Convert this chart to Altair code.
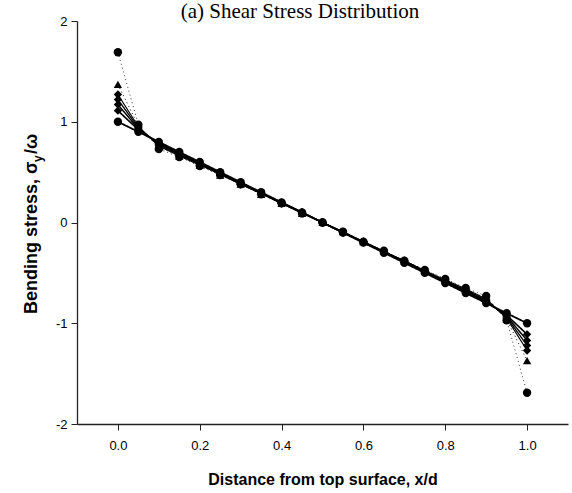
import altair as alt
import pandas as pd

x_vals = [0.0, 0.05, 0.10, 0.15, 0.20, 0.25, 0.30, 0.35, 0.40, 0.45, 0.50,
          0.55, 0.60, 0.65, 0.70, 0.75, 0.80, 0.85, 0.90, 0.95, 1.0]

s_a = [1.00, 0.90, 0.80, 0.70, 0.60, 0.50, 0.40, 0.30, 0.20, 0.10, 0.00,
       -0.10, -0.20, -0.30, -0.40, -0.50, -0.60, -0.70, -0.80, -0.90, -1.00]
s_b = [1.11, 0.92, 0.79, 0.69, 0.59, 0.49, 0.39, 0.29, 0.20, 0.10, 0.00,
       -0.10, -0.20, -0.29, -0.39, -0.49, -0.59, -0.69, -0.79, -0.92, -1.11]
s_c = [1.17, 0.93, 0.78, 0.68, 0.58, 0.49, 0.39, 0.29, 0.19, 0.10, 0.00,
       -0.10, -0.19, -0.29, -0.39, -0.49, -0.58, -0.68, -0.78, -0.93, -1.17]
s_d = [1.22, 0.94, 0.77, 0.67, 0.58, 0.48, 0.38, 0.29, 0.19, 0.10, 0.00,
       -0.10, -0.19, -0.29, -0.38, -0.48, -0.58, -0.67, -0.77, -0.94, -1.22]
s_e = [1.27, 0.95, 0.76, 0.66, 0.57, 0.48, 0.38, 0.29, 0.19, 0.09, 0.00,
       -0.09, -0.19, -0.29, -0.38, -0.48, -0.57, -0.66, -0.76, -0.95, -1.27]
s_f = [1.37, 0.96, 0.75, 0.66, 0.57, 0.47, 0.38, 0.28, 0.19, 0.09, 0.00,
       -0.09, -0.19, -0.28, -0.38, -0.47, -0.57, -0.66, -0.75, -0.96, -1.37]
s_g = [1.69, 0.97, 0.73, 0.65, 0.56, 0.47, 0.38, 0.28, 0.19, 0.09, 0.00,
       -0.09, -0.19, -0.28, -0.38, -0.47, -0.56, -0.65, -0.73, -0.97, -1.69]

series_names = ["A", "B", "C", "D", "E", "F", "G"]
series_vals = [s_a, s_b, s_c, s_d, s_e, s_f, s_g]
shapes = ["circle", "diamond", "diamond", "diamond", "diamond", "triangle-up", "circle"]
dashes = [[1, 0], [1, 0], [1, 0], [1, 0], [1, 0], [1, 3], [1, 3]]
widths = [1.8, 0.8, 0.8, 0.8, 0.8, 1.2, 1.2]

title_text = "(a) Shear Stress Distribution"
x_title = "Distance from top surface, x/d"
y_title_main = "Bending stress, σ"
y_title_sub = "y"
y_title_end = "/ω"
x_ticks = [0.0, 0.2, 0.4, 0.6, 0.8, 1.0]
y_ticks = [-2, -1, 0, 1, 2]

rows = []
for name, vals in zip(series_names, series_vals):
    for xv, yv in zip(x_vals, vals):
        rows.append({"series": name, "x": xv, "y": yv})
df = pd.DataFrame(rows)

W, H = 491, 403

xs = alt.Scale(domain=[-0.1, 1.1], nice=False, zero=False)
ys = alt.Scale(domain=[-2, 2], nice=False, zero=False)

x_axis = alt.Axis(
    values=x_ticks, format=".1f", title=x_title, titleFontSize=16,
    titleFont="Liberation Sans", titleFontWeight="bold", titlePadding=19,
    labelFont="Liberation Sans", labelFontSize=13, labelPadding=9,
    tickSize=6, grid=False, domainColor="#222", tickColor="#222",
    labelColor="black", titleColor="black", domainWidth=1.3)
y_axis = alt.Axis(
    values=y_ticks, title=None, labelExpr="'' + datum.value",
    labelFont="Liberation Sans", labelFontSize=13, labelPadding=4,
    tickSize=6, grid=False, domainColor="#222", tickColor="#222",
    labelColor="black", domainWidth=1.3)

color_scale = alt.Scale(domain=series_names, range=["black"] * len(series_names))

lines = alt.Chart(df).mark_line().encode(
    x=alt.X("x:Q", scale=xs, axis=x_axis),
    y=alt.Y("y:Q", scale=ys, axis=y_axis),
    detail="series:N",
    strokeDash=alt.StrokeDash("series:N", scale=alt.Scale(domain=series_names, range=dashes), legend=None),
    strokeWidth=alt.StrokeWidth("series:N", scale=alt.Scale(domain=series_names, range=widths), legend=None),
    color=alt.Color("series:N", scale=color_scale, legend=None),
)

points = alt.Chart(df).mark_point(filled=True, opacity=1, size=70).encode(
    x=alt.X("x:Q", scale=xs, axis=x_axis),
    y=alt.Y("y:Q", scale=ys, axis=y_axis),
    shape=alt.Shape("series:N", scale=alt.Scale(domain=series_names, range=shapes), legend=None),
    color=alt.Color("series:N", scale=color_scale, legend=None),
)

txt = pd.DataFrame({"t": [title_text]})
title_mark = alt.Chart(txt).mark_text(
    font="Liberation Serif", fontSize=21, align="center", baseline="alphabetic", color="black"
).encode(text="t:N", x=alt.value(223), y=alt.value(-3))

ylab = pd.DataFrame({"a": [y_title_main], "b": [y_title_sub], "c": [y_title_end]})
base_y = 314 - 21
ytitle1 = alt.Chart(ylab).mark_text(
    font="Liberation Sans", fontWeight="bold", fontSize=18, angle=270,
    align="left", baseline="alphabetic", color="black"
).encode(text="a:N", x=alt.value(-40), y=alt.value(base_y))
ytitle2 = alt.Chart(ylab).mark_text(
    font="Liberation Sans", fontWeight="bold", fontSize=12, angle=270,
    align="left", baseline="alphabetic", color="black"
).encode(text="b:N", x=alt.value(-35), y=alt.value(base_y - 152))
ytitle3 = alt.Chart(ylab).mark_text(
    font="Liberation Sans", fontWeight="bold", fontSize=18, angle=270,
    align="left", baseline="alphabetic", color="black"
).encode(text="c:N", x=alt.value(-40), y=alt.value(base_y - 160))

chart = alt.layer(lines, points, title_mark, ytitle1, ytitle2, ytitle3).properties(
    width=W, height=H,
    background="white",
    autosize=alt.AutoSizeParams(type="none"),
    padding={"left": 77, "top": 21, "right": 4, "bottom": 69},
).configure_view(stroke=None)

chart.save("out.html", embed_options={"renderer": "svg", "actions": False})
